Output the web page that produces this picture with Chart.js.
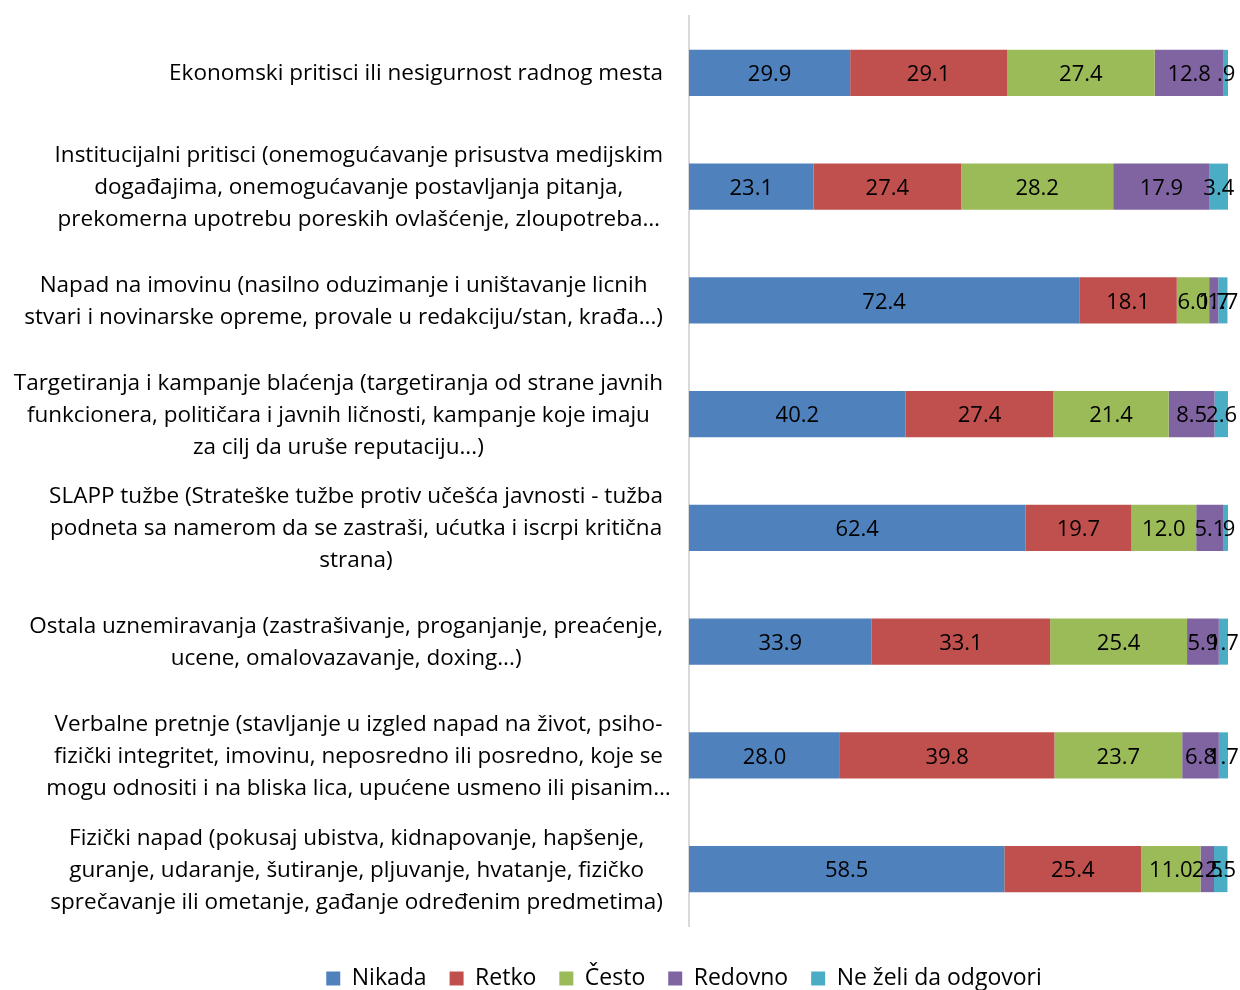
<!DOCTYPE html>
<html>
<head>
<meta charset="utf-8">
<script src="https://cdn.jsdelivr.net/npm/chart.js@4.4.1/dist/chart.umd.min.js"></script>
<style>
  html, body { margin: 0; padding: 0; background: #fff; }
  #wrap { width: 1240px; height: 990px; position: relative; }
</style>
</head>
<body>
<div id="wrap"><canvas id="chart"></canvas></div>
<script>
const categories = [
  ["Ekonomski pritisci ili nesigurnost radnog mesta"],
  ["Institucijalni pritisci (onemogućavanje prisustva medijskim", "događajima, onemogućavanje postavljanja pitanja,", "prekomerna upotrebu poreskih ovlašćenje, zloupotreba…"],
  ["Napad na imovinu (nasilno oduzimanje i uništavanje licnih", "stvari i novinarske opreme, provale u redakciju/stan, krađa...)"],
  ["Targetiranja i kampanje blaćenja (targetiranja od strane javnih", "funkcionera, političara i javnih ličnosti, kampanje koje imaju", "za cilj da uruše reputaciju...)"],
  ["SLAPP tužbe (Strateške tužbe protiv učešća javnosti - tužba", "podneta sa namerom da se zastraši, ućutka i iscrpi kritična", "strana)"],
  ["Ostala uznemiravanja (zastrašivanje, proganjanje, preaćenje,", "ucene, omalovazavanje, doxing...)"],
  ["Verbalne pretnje (stavljanje u izgled napad na život, psiho-", "fizički integritet, imovinu, neposredno ili posredno, koje se", "mogu odnositi i na bliska lica, upućene usmeno ili pisanim…"],
  ["Fizički napad (pokusaj ubistva, kidnapovanje, hapšenje,", "guranje, udaranje, šutiranje, pljuvanje, hvatanje, fizičko", "sprečavanje ili ometanje, gađanje određenim predmetima)"]
];

const nikada  = [29.9, 23.1, 72.4, 40.2, 62.4, 33.9, 28.0, 58.5];
const retko   = [29.1, 27.4, 18.1, 27.4, 19.7, 33.1, 39.8, 25.4];
const cesto   = [27.4, 28.2, 6.0, 21.4, 12.0, 25.4, 23.7, 11.0];
const redovno = [12.8, 17.9, 1.7, 8.5, 5.1, 5.9, 6.8, 2.5];
const neZeli  = [0.9, 3.4, 1.7, 2.6, 0.9, 1.7, 1.7, 2.5];

const seriesNames = ["Nikada", "Retko", "Često", "Redovno", "Ne želi da odgovori"];
const seriesColors = ["#4F81BD", "#C0504D", "#9BBB59", "#8064A2", "#4BACC6"];

const fontFamily = "'Open Sans', 'Noto Sans', sans-serif";
const catSize = 22.5;
const valSize = 22;

// value labels like Excel: 0.9 -> .9
function fmt(v) {
  return v.toFixed(1).replace(/^0\./, ".");
}

const valueLabels = {
  id: "valueLabels",
  afterDatasetsDraw(chart) {
    const ctx = chart.ctx;
    ctx.save();
    ctx.font = valSize + "px " + fontFamily;
    ctx.fillStyle = "#000";
    ctx.textAlign = "center";
    ctx.textBaseline = "middle";
    chart.data.datasets.forEach((ds, i) => {
      const meta = chart.getDatasetMeta(i);
      meta.data.forEach((bar, j) => {
        const v = ds.data[j];
        if (!v) return;
        ctx.fillText(fmt(v), (bar.x + bar.base) / 2, bar.y + 2);
      });
    });
    ctx.restore();
  }
};

// category labels: each block centred on itself, right edge near the axis
const categoryLabels = {
  id: "categoryLabels",
  afterDraw(chart) {
    const ctx = chart.ctx;
    const yScale = chart.scales.y;
    const rightEdge = chart.chartArea.left - 26;
    const lineH = 32;
    ctx.save();
    ctx.font = catSize + "px " + fontFamily;
    ctx.fillStyle = "#000";
    ctx.textAlign = "center";
    ctx.textBaseline = "middle";
    categories.forEach((lines, i) => {
      let w = 0;
      lines.forEach(l => {
        if (!l.endsWith("…")) w = Math.max(w, ctx.measureText(l).width);
      });
      const cx = rightEdge - w / 2;
      const cy = yScale.getPixelForValue(i) + 1;
      const top = cy - (lines.length - 1) * lineH / 2;
      lines.forEach((l, k) => ctx.fillText(l, cx, top + k * lineH));
    });
    ctx.restore();
  }
};

const datasets = [nikada, retko, cesto, redovno, neZeli].map((d, i) => ({
  label: seriesNames[i],
  data: d,
  backgroundColor: seriesColors[i],
  borderWidth: 0,
  barPercentage: 1,
  categoryPercentage: 0.405
}));

new Chart(document.getElementById("chart"), {
  type: "bar",
  data: { labels: categories, datasets: datasets },
  options: {
    indexAxis: "y",
    responsive: true,
    maintainAspectRatio: false,
    animation: false,
    layout: { padding: { top: 16, right: 12, bottom: -10, left: 140 } },
    scales: {
      x: {
        stacked: true,
        min: 0,
        max: 100,
        grid: { display: false },
        border: { display: false },
        ticks: { display: false },
        afterFit(scale) { scale.height = 18; }
      },
      y: {
        stacked: true,
        grid: { display: false },
        border: { display: true, color: "#d9d9d9", width: 2 },
        ticks: { display: false },
        afterFit(scale) { scale.width = 549; }
      }
    },
    plugins: {
      legend: {
        position: "bottom",
        labels: {
          boxWidth: 14,
          boxHeight: 14,
          padding: 23,
          color: "#000",
          font: { family: fontFamily, size: 23 }
        }
      },
      tooltip: { enabled: false }
    }
  },
  plugins: [valueLabels, categoryLabels]
});
</script>
</body>
</html>
